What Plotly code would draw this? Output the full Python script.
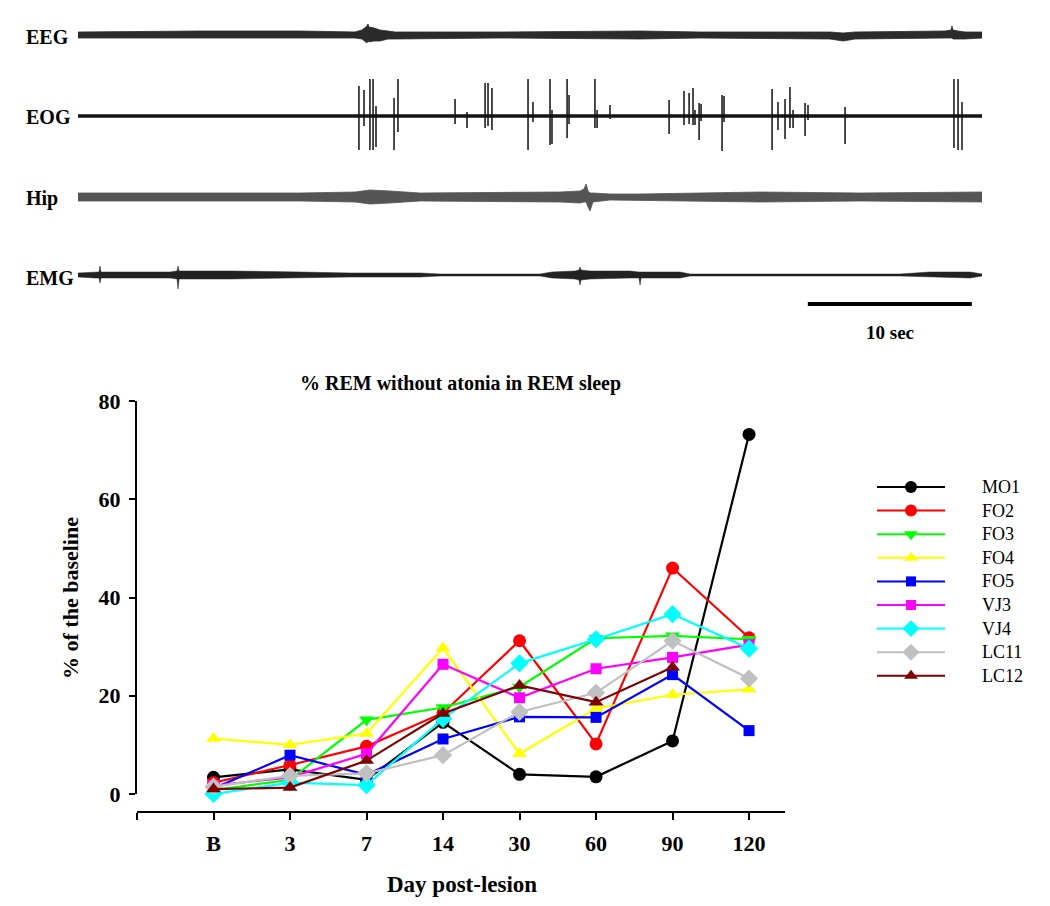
import plotly.graph_objects as go

W, H = 1050, 906
FONT = "Liberation Serif"

# ---------------- bottom chart data ----------------
DAYS = ["B", "3", "7", "14", "30", "60", "90", "120"]
SERIES_NAMES = ["MO1", "FO2", "FO3", "FO4", "FO5", "VJ3", "VJ4", "LC11", "LC12"]
MO1 = [3.4, 5.0, 2.9, 14.6, 4.0, 3.5, 10.8, 73.2]
FO2 = [2.3, 5.9, 9.7, 16.5, 31.2, 10.2, 46.0, 31.8]
FO3 = [0.8, 2.9, 15.1, 17.6, 21.8, 31.7, 32.2, 31.5]
FO4 = [11.3, 10.0, 12.3, 29.7, 8.2, 17.4, 20.2, 21.3]
FO5 = [1.1, 7.9, 3.9, 11.2, 15.7, 15.6, 24.3, 12.9]
VJ3 = [1.7, 3.4, 8.2, 26.4, 19.6, 25.5, 27.8, 30.4]
VJ4 = [0.0, 2.3, 1.8, 15.3, 26.6, 31.5, 36.6, 29.6]
LC11 = [1.5, 3.7, 4.2, 7.9, 16.7, 20.6, 31.2, 23.5]
LC12 = [1.0, 1.3, 6.8, 16.4, 22.1, 18.7, 25.8, None]
SERIES_VALUES = [MO1, FO2, FO3, FO4, FO5, VJ3, VJ4, LC11, LC12]
Y_TICKS = [0, 20, 40, 60, 80]

# ---------------- polygraph traces (read envelopes, seconds / a.u.) ----------------
EEG_T = [0.0, 7.44, 13.54, 16.89, 17.32, 17.50, 17.62, 17.68, 17.74, 18.05, 18.41, 18.9, 19.33, 25.73,
         34.27, 37.93, 45.85, 46.65, 47.38, 52.87, 53.23, 53.29, 53.35, 53.66, 54.09, 55.12]
EEG_UP = [3, 4, 4, 3, 5, 7, 9, 11, 8, 7, 5, 4, 3, 3, 4, 3, 3, 2, 3, 4, 5, 9, 5, 4, 3, 3]
EEG_DN = [3, 3, 3, 3, 4, 6, 8, 6, 7, 6, 6, 4, 4, 3, 4, 3, 4, 6, 4, 3, 3, 3, 4, 4, 4, 3]

EOG_NOISE_T = [0.0, 55.12]
EOG_NOISE_UP = [1.5, 1.5]
EOG_NOISE_DN = [1.5, 1.5]
EOG_SPIKE_T = [17.13, 17.44, 17.80, 17.99, 18.17, 19.27, 19.51, 22.99, 23.72, 24.82,
               25.00, 25.24, 27.44, 27.74, 28.78, 28.90, 29.82, 29.94, 31.52, 31.65,
               32.44, 36.04, 36.95, 37.26, 37.50, 37.62, 37.87, 37.99, 39.27, 39.39,
               42.32, 42.68, 43.11, 43.41, 43.60, 44.33, 44.51, 46.77, 53.41, 53.66, 53.90]
EOG_SPIKE_UP = [30, 26, 37, 37, 10, 18, 37, 17, 4, 33, 33, 28, 37, 14, 37, 6, 37, 21, 37, 6,
                11, 16, 25, 23, 28, 6, 13, 12, 21, 20, 27, 14, 17, 29, 6, 13, 11, 9, 37, 37, 14]
EOG_SPIKE_DN = [34, 10, 34, 34, 31, 34, 16, 8, 12, 12, 10, 14, 34, 6, 29, 28, 22, 8, 12, 12,
                3, 18, 9, 8, 9, 9, 24, 5, 35, 6, 34, 14, 23, 12, 12, 20, 4, 28, 32, 34, 34]

HIP_T = [0.0, 7.44, 13.54, 16.89, 17.8, 19.02, 20.85, 29.39, 30.61, 30.85, 30.98, 31.10, 31.22, 31.40,
         32.44, 34.27, 37.93, 41.59, 47.68, 55.12]
HIP_UP = [4, 4, 4, 5, 7, 6, 4, 5, 6, 8, 13, 6, 4, 4, 3, 3, 4, 5, 4, 5]
HIP_DN = [4, 4, 4, 5, 7, 6, 4, 5, 6, 5, 5, 10, 14, 5, 3, 3, 4, 5, 4, 5]

EMG_T = [0.0, 1.04, 1.28, 1.34, 1.40, 1.65, 5.61, 6.04, 6.10, 6.16, 6.46, 9.27, 13.54, 16.59,
         20.85, 22.07, 28.17, 28.90, 30.30, 30.55, 30.61, 30.67, 31.22, 33.66, 34.21, 34.27,
         34.33, 34.57, 36.71, 37.32, 50.12, 51.95, 54.39, 55.12]
EMG_UP = [2, 3, 3, 9, 3, 3, 3, 4, 9, 4, 4, 4, 3, 2, 2, 1, 1, 3, 4, 5, 8, 5, 4, 4, 3, 3,
          3, 3, 3, 1, 1, 3, 3, 1]
EMG_DN = [2, 3, 3, 8, 3, 3, 3, 4, 14, 4, 4, 4, 3, 2, 2, 1, 1, 3, 4, 5, 10, 5, 4, 3, 3, 10,
          3, 3, 3, 1, 1, 2, 3, 1]

CHANNELS = ["EEG", "EOG", "Hip", "EMG"]
SCALE_BAR_SEC = 10
SCALE_BAR_START = 44.5
RECORD_LEN = 55.12

# ---------------- styles / layout constants ----------------
STYLE = {
    "MO1": ("#000000", "circle", 13),
    "FO2": ("#FF0000", "circle", 13),
    "FO3": ("#00FF00", "triangle-down", 13),
    "FO4": ("#FFFF00", "triangle-up", 13),
    "FO5": ("#0000FF", "square", 11),
    "VJ3": ("#FF00FF", "square", 11),
    "VJ4": ("#00FFFF", "diamond", 14),
    "LC11": ("#C0C0C0", "diamond", 14),
    "LC12": ("#800000", "triangle-up", 13),
}
CH_BASE = {"EEG": 305, "EOG": 224, "Hip": 143, "EMG": 65}   # y2 units (px from panel bottom)
CH_LABEL_Y = {"EEG": 37, "EOG": 117, "Hip": 198, "EMG": 278}  # px
CH_FILL = {"EEG": "#2b2b2b", "Hip": "#555555", "EMG": "#222222"}


def px_x(x):
    return x / W


def px_y(y):
    return 1 - y / H


fig = go.Figure()


def band(t, up, dn, base, color, lw):
    xs = list(t) + list(reversed(t)) + [t[0]]
    ys = [base + u for u in up] + [base - d for d in reversed(dn)] + [base + up[0]]
    fig.add_trace(go.Scatter(x=xs, y=ys, mode="lines", fill="toself", fillcolor=color,
                             line=dict(color=color, width=lw), xaxis="x2", yaxis="y2",
                             showlegend=False, hoverinfo="skip"))


band(EEG_T, EEG_UP, EEG_DN, CH_BASE["EEG"], CH_FILL["EEG"], 0.8)
band(HIP_T, HIP_UP, HIP_DN, CH_BASE["Hip"], CH_FILL["Hip"], 0.8)
band(EMG_T, EMG_UP, EMG_DN, CH_BASE["EMG"], CH_FILL["EMG"], 0.5)
band(EOG_NOISE_T, EOG_NOISE_UP, EOG_NOISE_DN, CH_BASE["EOG"], "#222222", 0.6)

# EOG spikes as a single polyline
ex, ey = [0.0], [CH_BASE["EOG"]]
for t, u, d in zip(EOG_SPIKE_T, EOG_SPIKE_UP, EOG_SPIKE_DN):
    b = CH_BASE["EOG"]
    ex += [t, t, t, t]
    ey += [b, b + u, b - d, b]
ex.append(RECORD_LEN)
ey.append(CH_BASE["EOG"])
fig.add_trace(go.Scatter(x=ex, y=ey, mode="lines", line=dict(color="#111111", width=1.5),
                         xaxis="x2", yaxis="y2", showlegend=False, hoverinfo="skip"))

# scale bar
fig.add_trace(go.Scatter(x=[SCALE_BAR_START, SCALE_BAR_START + SCALE_BAR_SEC], y=[36, 36],
                         mode="lines", line=dict(color="black", width=4),
                         xaxis="x2", yaxis="y2", showlegend=False, hoverinfo="skip"))

# ---------------- line chart ----------------
xpos = list(range(1, len(DAYS) + 1))
for name, vals in zip(SERIES_NAMES, SERIES_VALUES):
    color, sym, size = STYLE[name]
    fig.add_trace(go.Scatter(x=xpos, y=vals, mode="lines+markers", name=name,
                             line=dict(color=color, width=2.2),
                             marker=dict(color=color, symbol=sym, size=size, line=dict(width=0)),
                             cliponaxis=False, showlegend=False))

# ---------------- custom legend ----------------
LEG_X0, LEG_X1, LEG_XM, LEG_TX = 877, 945, 911, 980
LEG_Y0, LEG_DY = 487, 23.6
annotations = []
for i, name in enumerate(SERIES_NAMES):
    color, sym, size = STYLE[name]
    yy = LEG_Y0 + i * LEG_DY
    fig.add_trace(go.Scatter(x=[LEG_X0, LEG_X1], y=[yy, yy], mode="lines",
                             line=dict(color=color, width=2), xaxis="x3", yaxis="y3",
                             showlegend=False, hoverinfo="skip"))
    fig.add_trace(go.Scatter(x=[LEG_XM], y=[yy], mode="markers",
                             marker=dict(color=color, symbol=sym, size=size - 1, line=dict(width=0)),
                             xaxis="x3", yaxis="y3", showlegend=False, hoverinfo="skip",
                             cliponaxis=False))
    annotations.append(dict(x=px_x(LEG_TX), y=px_y(yy), xref="paper", yref="paper",
                            text=name, showarrow=False, xanchor="left", yanchor="middle",
                            font=dict(family=FONT, size=18, color="black")))

# ---------------- text ----------------
for ch in CHANNELS:
    annotations.append(dict(x=px_x(24), y=px_y(CH_LABEL_Y[ch]), xref="paper", yref="paper",
                            text=ch, showarrow=False, xanchor="left", yanchor="middle",
                            font=dict(family=FONT, size=20, color="black", weight="bold")))
annotations.append(dict(x=px_x(890), y=px_y(332), xref="paper", yref="paper",
                        text=f"{SCALE_BAR_SEC} sec", showarrow=False, xanchor="center",
                        yanchor="middle", font=dict(family=FONT, size=19, color="black", weight="bold")))
annotations.append(dict(x=px_x(460), y=px_y(383), xref="paper", yref="paper",
                        text="% REM without atonia in REM sleep", showarrow=False,
                        xanchor="center", yanchor="middle",
                        font=dict(family=FONT, size=20, color="black", weight="bold")))
annotations.append(dict(x=px_x(462), y=px_y(884), xref="paper", yref="paper",
                        text="Day post-lesion", showarrow=False, xanchor="center",
                        yanchor="middle", font=dict(family=FONT, size=23, color="black", weight="bold")))
annotations.append(dict(x=px_x(70), y=px_y(598), xref="paper", yref="paper",
                        text="% of the baseline", showarrow=False, xanchor="center",
                        yanchor="middle", textangle=-90,
                        font=dict(family=FONT, size=22, color="black", weight="bold")))

fig.update_layout(
    width=W, height=H, margin=dict(l=0, r=0, t=0, b=0, autoexpand=False), autosize=False,
    paper_bgcolor="white", plot_bgcolor="rgba(0,0,0,0)",
    showlegend=False, annotations=annotations,
    xaxis=dict(domain=[px_x(137), px_x(785)], range=[0, 8.47], anchor="free",
               position=px_y(812), showline=True, linecolor="black", linewidth=2,
               ticks="outside", ticklen=7, tickwidth=2, tickcolor="black",
               tickvals=[0] + xpos, ticktext=[""] + DAYS, showgrid=False, zeroline=False,
               ticklabelstandoff=5, automargin=False,
               tickfont=dict(family=FONT, size=22, color="black", weight="bold")),
    yaxis=dict(domain=[px_y(794), px_y(401)], range=[0, 80], anchor="x",
               showline=True, linecolor="black", linewidth=2, ticks="outside",
               ticklen=6, tickwidth=2, tickcolor="black", tickvals=Y_TICKS,
               showgrid=False, zeroline=False, ticklabelstandoff=4, automargin=False,
               tickfont=dict(family=FONT, size=22, color="black", weight="bold")),
    xaxis2=dict(domain=[px_x(78), px_x(982)], range=[0, RECORD_LEN], visible=False,
                anchor="y2", automargin=False),
    yaxis2=dict(domain=[px_y(340), 1], range=[0, 340], visible=False, anchor="x2",
                automargin=False),
    xaxis3=dict(domain=[0, 1], range=[0, W], visible=False, anchor="y3", automargin=False),
    yaxis3=dict(domain=[0, 1], range=[H, 0], visible=False, anchor="x3", automargin=False),
)

fig.write_html(
    "out.html",
    config={"responsive": False, "displayModeBar": False},
    post_script="document.body.style.margin='0';document.body.style.overflow='hidden';",
)
